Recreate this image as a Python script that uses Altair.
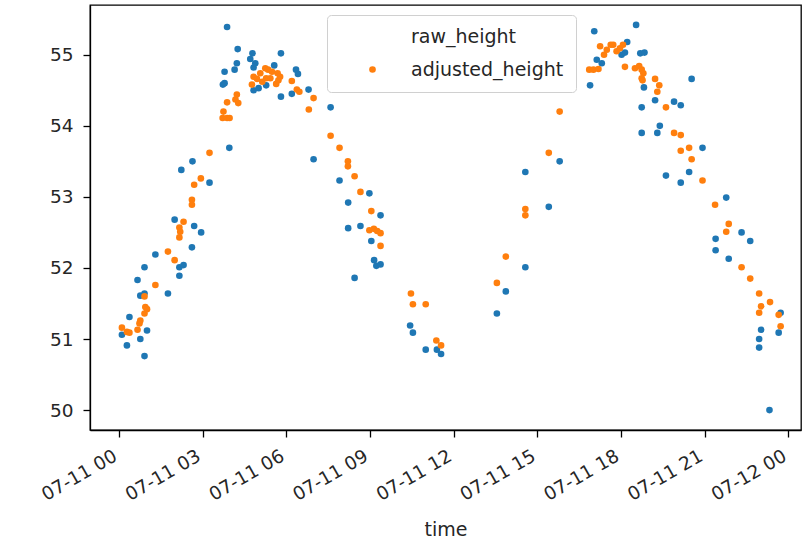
import altair as alt
import pandas as pd

# hours after 2021-07-11 00:00
raw_hours = [0.11, 0.29, 0.38, 0.67, 0.77, 0.77, 0.92, 0.92, 0.92, 1.01,
             1.31, 1.76, 2.00, 2.17, 2.17, 2.24, 2.32, 2.62, 2.64, 2.70,
             2.95, 3.25, 3.73, 3.79, 3.79, 3.88, 3.96, 4.15, 4.23, 4.26,
             4.71, 4.79, 4.83, 4.83, 4.89, 5.01, 5.28, 5.57, 5.81, 5.81,
             6.20, 6.35, 6.42, 6.80, 6.98, 7.59, 7.91, 8.22, 8.22, 8.45,
             8.66, 8.98, 9.05, 9.15, 9.23, 9.38, 9.38, 10.44, 10.54, 11.00,
             11.40, 11.55, 13.55, 13.87, 14.57, 14.57, 15.41, 15.80, 16.89, 17.04,
             17.13, 17.31, 18.02, 18.14, 18.22, 18.54, 18.69, 18.74, 18.74, 18.82,
             18.84, 19.22, 19.30, 19.39, 19.61, 19.90, 20.14, 20.14, 20.44, 20.53,
             20.92, 21.39, 21.39, 21.77, 21.86, 22.32, 22.63, 22.95, 22.95, 23.02,
             23.32, 23.65, 23.72]
raw_height = [51.06, 50.91, 51.31, 51.83, 51.00, 51.61, 50.76, 51.64, 52.01, 51.12,
              52.19, 51.64, 52.68, 51.89, 52.01, 53.38, 52.04, 52.29, 53.50, 52.59,
              52.50, 53.20, 54.58, 54.60, 54.76, 55.39, 53.69, 54.79, 54.88, 55.08,
              54.94, 55.02, 54.82, 54.50, 54.88, 54.53, 54.57, 54.85, 55.02, 54.41,
              54.45, 54.79, 54.73, 54.51, 53.53, 54.26, 53.23, 52.92, 52.56, 51.86,
              52.59, 53.05, 52.38, 52.11, 52.03, 52.74, 52.05, 51.19, 51.09, 50.85,
              50.85, 50.79, 51.36, 51.67, 52.01, 53.35, 52.86, 53.50, 54.57, 55.33,
              54.93, 54.88, 55.00, 55.03, 55.18, 55.42, 55.02, 54.26, 53.90, 54.54,
              55.03, 54.36, 53.90, 54.00, 53.30, 54.34, 54.29, 53.20, 53.35, 54.66,
              53.69, 52.41, 52.25, 52.99, 52.13, 52.50, 52.38, 51.00, 50.88, 51.13,
              50.00, 51.09, 51.37]

adj_hours = [0.11, 0.29, 0.38, 0.67, 0.74, 0.77, 0.92, 0.92, 0.95, 1.01,
             1.31, 1.76, 2.00, 2.17, 2.17, 2.20, 2.32, 2.62, 2.62, 2.70,
             2.94, 3.25, 3.72, 3.75, 3.88, 3.88, 3.97, 4.18, 4.23, 4.28,
             4.77, 4.83, 4.95, 5.07, 5.14, 5.25, 5.28, 5.35, 5.43, 5.49,
             5.64, 5.69, 5.72, 5.78, 6.20, 6.38, 6.47, 6.81, 6.98, 7.59,
             7.91, 8.21, 8.21, 8.45, 8.66, 8.98, 9.05, 9.14, 9.26, 9.38,
             9.38, 10.47, 10.54, 11.00, 11.38, 11.55, 13.55, 13.87, 14.57, 14.57,
             15.41, 15.80, 16.86, 17.01, 17.19, 17.25, 17.39, 17.49, 17.63, 17.72,
             17.84, 17.96, 18.07, 18.14, 18.50, 18.65, 18.74, 18.74, 18.77, 18.80,
             19.22, 19.30, 19.37, 19.61, 19.90, 20.14, 20.14, 20.44, 20.53, 20.92,
             21.37, 21.77, 21.86, 22.32, 22.63, 22.95, 22.95, 23.02, 23.34, 23.65,
             23.72]
adj_height = [51.16, 51.10, 51.09, 51.13, 51.22, 51.26, 51.60, 51.36, 51.45, 51.42,
              51.76, 52.23, 52.11, 52.43, 52.57, 52.51, 52.65, 52.96, 52.89, 53.17,
              53.26, 53.62, 54.11, 54.20, 54.11, 54.33, 54.11, 54.37, 54.44, 54.32,
              54.58, 54.69, 54.66, 54.74, 54.62, 54.81, 54.67, 54.79, 54.67, 54.76,
              54.59, 54.74, 54.64, 54.69, 54.63, 54.51, 54.48, 54.23, 54.39, 53.86,
              53.69, 53.50, 53.43, 53.29, 53.07, 52.53, 52.80, 52.55, 52.52, 52.49,
              52.31, 51.64, 51.49, 51.49, 50.98, 50.91, 51.79, 52.16, 52.83, 52.74,
              53.62, 54.20, 54.79, 54.79, 54.80, 55.12, 55.00, 55.07, 55.14, 55.14,
              55.05, 55.09, 55.14, 54.83, 54.81, 54.84, 54.79, 54.67, 54.64, 54.74,
              54.66, 54.48, 54.57, 54.26, 53.90, 53.87, 53.65, 53.69, 53.53, 53.23,
              52.89, 52.51, 52.62, 52.01, 51.85, 51.64, 51.37, 51.46, 51.52, 51.34,
              51.18]

series_names = ["raw_height", "adjusted_height"]
series_colors = ["#1f77b4", "#ff7f0e"]
# the reference legend shows no marker for raw_height: an empty shape
legend_shapes = ["M0,0", "circle"]
y_ticks = [50, 51, 52, 53, 54, 55]
x_tick_hours = [0, 3, 6, 9, 12, 15, 18, 21, 24]

base = pd.Timestamp("2021-07-11 00:00:00")


def make_frame(hours, values, name):
    t = base + pd.to_timedelta(hours, unit="h")
    return pd.DataFrame({
        "time": t.strftime("%Y-%m-%dT%H:%M:%S"),
        "value": values,
        "series": name,
    })


df = pd.concat([
    make_frame(raw_hours, raw_height, series_names[0]),
    make_frame(adj_hours, adj_height, series_names[1]),
], ignore_index=True)


def dt(hours_after):
    ts = base + pd.Timedelta(hours=hours_after)
    return alt.DateTime(year=ts.year, month=ts.month, date=ts.day,
                        hours=ts.hour, minutes=ts.minute)


x_values = [dt(h) for h in x_tick_hours]
FONT = "DejaVu Sans"

x_enc = alt.X(
    "time:T",
    title="time",
    scale=alt.Scale(domain=[dt(-1.02), dt(24.45)]),
    axis=alt.Axis(
        values=x_values, format="%m-%d %H", labelAngle=-30,
        labelAlign="right", labelBaseline="middle", labelPadding=17,
        labelOffset=-4, labelFontSize=18.5, tickSize=7, titlePadding=17,
        titleFontSize=19, titleFontWeight="normal", grid=False,
    ),
)
y_enc = alt.Y(
    "value:Q",
    title=None,
    scale=alt.Scale(domain=[49.72, 55.70], nice=False, zero=False),
    axis=alt.Axis(values=y_ticks, format="d", labelFontSize=18.5,
                  tickSize=7, labelPadding=10, grid=False),
)

base_chart = alt.Chart(df)

raw_layer = base_chart.mark_circle(
    size=44, opacity=1, color=series_colors[0]
).encode(x=x_enc, y=y_enc).transform_filter(
    alt.datum.series == series_names[0]
)

adj_layer = base_chart.mark_point(
    size=44, filled=True, opacity=1, color=series_colors[1]
).encode(
    x=x_enc,
    y=y_enc,
    shape=alt.Shape(
        "series:N",
        scale=alt.Scale(domain=series_names, range=legend_shapes),
        legend=alt.Legend(
            title=None, orient="none", legendX=237, legendY=10,
            values=series_names,
            direction="vertical", labelFontSize=19, labelFont=FONT,
            labelColor="#262626", symbolSize=44,
            symbolFillColor=series_colors[1], symbolStrokeWidth=0,
            symbolOffset=24, labelOffset=29, padding=12, rowPadding=13,
            strokeColor="#d0d0d0", fillColor="white", cornerRadius=4,
        ),
    ),
).transform_filter(
    alt.datum.series == series_names[1]
)

chart = alt.layer(raw_layer, adj_layer).properties(
    width=711,
    height=425,
    autosize=alt.AutoSizeParams(type="none"),
    padding={"left": 90, "top": 5, "right": 2, "bottom": 115},
).configure_axis(
    labelFont=FONT, titleFont=FONT, labelColor="#262626", titleColor="#262626",
    domainColor="black", tickColor="black", domainWidth=1.3, tickWidth=1.3,
).configure_view(
    stroke="black", strokeWidth=1.3,
)

chart.save("out.html", embed_options={"renderer": "svg", "actions": False})
